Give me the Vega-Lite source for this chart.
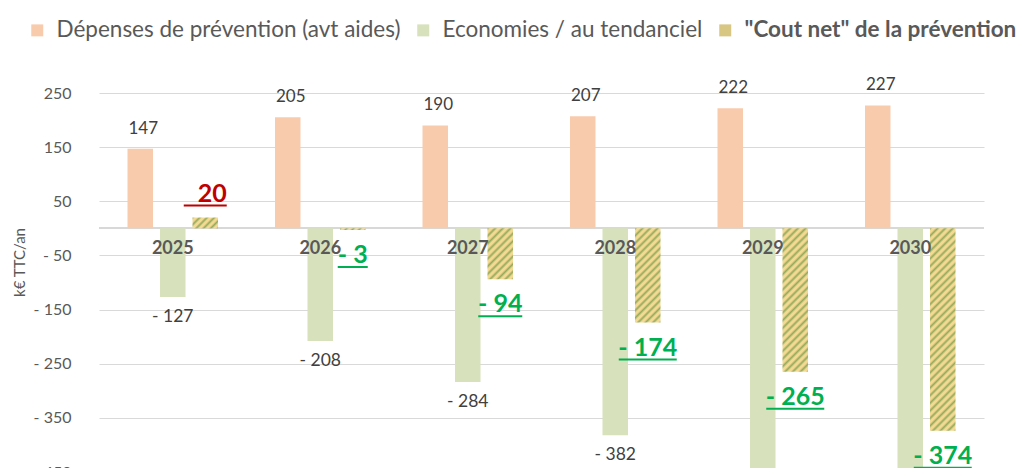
{
  "$schema": "https://vega.github.io/schema/vega-lite/v6.json",
  "width": 885,
  "height": 379,
  "autosize": {"type": "none"},
  "padding": {"left": 99, "top": 93, "right": 33, "bottom": 0},
  "background": "white",
  "config": {"font": "Lato", "view": {"stroke": null}},
  "data": {"values": [
    {"year": "2025", "series": "Dépenses de prévention (avt aides)", "value": 147},
    {"year": "2025", "series": "Economies / au tendanciel", "value": -127},
    {"year": "2025", "series": "\"Cout net\" de la prévention", "value": 20},
    {"year": "2026", "series": "Dépenses de prévention (avt aides)", "value": 205},
    {"year": "2026", "series": "Economies / au tendanciel", "value": -208},
    {"year": "2026", "series": "\"Cout net\" de la prévention", "value": -3},
    {"year": "2027", "series": "Dépenses de prévention (avt aides)", "value": 190},
    {"year": "2027", "series": "Economies / au tendanciel", "value": -284},
    {"year": "2027", "series": "\"Cout net\" de la prévention", "value": -94},
    {"year": "2028", "series": "Dépenses de prévention (avt aides)", "value": 207},
    {"year": "2028", "series": "Economies / au tendanciel", "value": -382},
    {"year": "2028", "series": "\"Cout net\" de la prévention", "value": -174},
    {"year": "2029", "series": "Dépenses de prévention (avt aides)", "value": 222},
    {"year": "2029", "series": "Economies / au tendanciel", "value": -487},
    {"year": "2029", "series": "\"Cout net\" de la prévention", "value": -265},
    {"year": "2030", "series": "Dépenses de prévention (avt aides)", "value": 227},
    {"year": "2030", "series": "Economies / au tendanciel", "value": -601},
    {"year": "2030", "series": "\"Cout net\" de la prévention", "value": -374}
  ]},
  "transform": [
    {"calculate": "datum.value < 0 ? '- ' + abs(datum.value) : '\u00a0' + datum.value", "as": "lab"}
  ],
  "encoding": {
    "x": {"field": "year", "type": "ordinal", "axis": null, "scale": {"paddingInner": 0.3864, "paddingOuter": 0.1932}},
    "y": {"field": "value", "type": "quantitative", "title": "k€ TTC/an",
      "scale": {"domain": [-450, 250], "nice": false, "zero": false},
      "axis": {"values": [250, 150, 50, -50, -150, -250, -350, -450], "grid": true, "gridColor": "#D9D9D9", "gridWidth": 1,
        "domain": false, "ticks": false, "labelPadding": 28, "labelFontSize": 16, "labelColor": "#595959",
        "labelExpr": "datum.value < 0 ? '- ' + abs(datum.value) : datum.value",
        "titleFontSize": 15, "titleFontWeight": "normal", "titleColor": "#595959", "titleX": -80, "titleY": 169, "titleBaseline": "middle"}}
  },
  "layer": [
    {
      "mark": {"type": "rule", "color": "#D9D9D9", "strokeWidth": 1},
      "encoding": {"y": {"datum": 0}, "x": {"value": 0}, "x2": {"value": 885}}
    },
    {
      "transform": [{"filter": "datum.series !== '\"Cout net\" de la prévention'"}],
      "mark": {"type": "bar", "clip": true},
      "encoding": {
        "xOffset": {"field": "series", "type": "nominal", "scale": {"domain": ["Dépenses de prévention (avt aides)", "Economies / au tendanciel", "\"Cout net\" de la prévention"], "paddingInner": 0.215, "paddingOuter": 0}},
        "color": {"field": "series", "type": "nominal",
          "scale": {"domain": ["Dépenses de prévention (avt aides)", "Economies / au tendanciel", "\"Cout net\" de la prévention"], "range": ["#F8CBAD", "#D7E2BC", "#D8C783"]},
          "legend": {"orient": "none", "legendX": -73, "legendY": -74, "direction": "horizontal", "title": null,
            "symbolType": "square", "symbolSize": 144, "symbolStrokeWidth": 0, "labelFontSize": 22.5, "labelColor": "#595959",
            "labelLimit": 0, "columnPadding": 11, "labelOffset": 8, "padding": 0, "offset": 0,
            "encode": {
              "labels": {"update": {"fontWeight": [{"test": "indexof(datum.label, 'Cout') >= 0", "value": "bold"}, {"value": "normal"}]}},
              "symbols": {"update": {"fill": [
                {"test": "indexof(datum.label, 'Cout') >= 0", "value": {"gradient": "linear", "x1": 0, "y1": 0, "x2": 1, "y2": 1, "stops": [
                  {"offset": 0, "color": "#94AA5C"}, {"offset": 0.117, "color": "#F3D991"}, {"offset": 0.217, "color": "#F3D991"},
                  {"offset": 0.333, "color": "#94AA5C"}, {"offset": 0.45, "color": "#F3D991"}, {"offset": 0.55, "color": "#F3D991"},
                  {"offset": 0.667, "color": "#94AA5C"}, {"offset": 0.783, "color": "#F3D991"}, {"offset": 0.883, "color": "#F3D991"},
                  {"offset": 1, "color": "#94AA5C"}]}},
                {"test": "indexof(datum.label, 'Dép') >= 0", "value": "#F8CBAD"},
                {"value": "#D7E2BC"}], "stroke": {"value": null}}}
            }}
        }
      }
    },
    {
      "transform": [{"filter": "datum.series === '\"Cout net\" de la prévention'"}],
      "mark": {"type": "bar", "clip": true},
      "encoding": {
        "xOffset": {"field": "series", "type": "nominal"},
        "fill": {"condition": [
          {"test": "datum.year === '2025'", "value": {"gradient": "linear", "x1": 0, "y1": 0, "x2": 1.207, "y2": 0.5126, "stops": [
            {"offset": 0, "color": "#94AA5C"}, {"offset": 0.07, "color": "#F3D991"}, {"offset": 0.13, "color": "#F3D991"},
            {"offset": 0.2, "color": "#94AA5C"}, {"offset": 0.27, "color": "#F3D991"}, {"offset": 0.33, "color": "#F3D991"},
            {"offset": 0.4, "color": "#94AA5C"}, {"offset": 0.47, "color": "#F3D991"}, {"offset": 0.53, "color": "#F3D991"},
            {"offset": 0.6, "color": "#94AA5C"}, {"offset": 0.67, "color": "#F3D991"}, {"offset": 0.73, "color": "#F3D991"},
            {"offset": 0.8, "color": "#94AA5C"}, {"offset": 0.87, "color": "#F3D991"}, {"offset": 0.93, "color": "#F3D991"},
            {"offset": 1, "color": "#94AA5C"}]}},
          {"test": "datum.year === '2026'", "value": {"gradient": "linear", "x1": 0, "y1": 0, "x2": 1.059, "y2": 0.0673, "stops": [
            {"offset": 0, "color": "#94AA5C"}, {"offset": 0.0875, "color": "#F3D991"}, {"offset": 0.1625, "color": "#F3D991"},
            {"offset": 0.25, "color": "#94AA5C"}, {"offset": 0.3375, "color": "#F3D991"}, {"offset": 0.4125, "color": "#F3D991"},
            {"offset": 0.5, "color": "#94AA5C"}, {"offset": 0.5875, "color": "#F3D991"}, {"offset": 0.6625, "color": "#F3D991"},
            {"offset": 0.75, "color": "#94AA5C"}, {"offset": 0.8375, "color": "#F3D991"}, {"offset": 0.9125, "color": "#F3D991"},
            {"offset": 1, "color": "#94AA5C"}]}},
          {"test": "datum.year === '2027'", "value": {"gradient": "linear", "x1": 0, "y1": 0, "x2": 0.6012, "y2": 1.1998, "stops": [
            {"offset": 0, "color": "#94AA5C"}, {"offset": 0.035, "color": "#F3D991"}, {"offset": 0.065, "color": "#F3D991"},
            {"offset": 0.1, "color": "#94AA5C"}, {"offset": 0.135, "color": "#F3D991"}, {"offset": 0.165, "color": "#F3D991"},
            {"offset": 0.2, "color": "#94AA5C"}, {"offset": 0.235, "color": "#F3D991"}, {"offset": 0.265, "color": "#F3D991"},
            {"offset": 0.3, "color": "#94AA5C"}, {"offset": 0.335, "color": "#F3D991"}, {"offset": 0.365, "color": "#F3D991"},
            {"offset": 0.4, "color": "#94AA5C"}, {"offset": 0.435, "color": "#F3D991"}, {"offset": 0.465, "color": "#F3D991"},
            {"offset": 0.5, "color": "#94AA5C"}, {"offset": 0.535, "color": "#F3D991"}, {"offset": 0.565, "color": "#F3D991"},
            {"offset": 0.6, "color": "#94AA5C"}, {"offset": 0.635, "color": "#F3D991"}, {"offset": 0.665, "color": "#F3D991"},
            {"offset": 0.7, "color": "#94AA5C"}, {"offset": 0.735, "color": "#F3D991"}, {"offset": 0.765, "color": "#F3D991"},
            {"offset": 0.8, "color": "#94AA5C"}, {"offset": 0.835, "color": "#F3D991"}, {"offset": 0.865, "color": "#F3D991"},
            {"offset": 0.9, "color": "#94AA5C"}, {"offset": 0.935, "color": "#F3D991"}, {"offset": 0.965, "color": "#F3D991"},
            {"offset": 1, "color": "#94AA5C"}]}},
          {"test": "datum.year === '2028'", "value": {"gradient": "linear", "x1": 0, "y1": 0, "x2": 0.3205, "y2": 1.1839, "stops": [
            {"offset": 0, "color": "#94AA5C"}, {"offset": 0.021875, "color": "#F3D991"}, {"offset": 0.040625, "color": "#F3D991"},
            {"offset": 0.0625, "color": "#94AA5C"}, {"offset": 0.084375, "color": "#F3D991"}, {"offset": 0.103125, "color": "#F3D991"},
            {"offset": 0.125, "color": "#94AA5C"}, {"offset": 0.146875, "color": "#F3D991"}, {"offset": 0.165625, "color": "#F3D991"},
            {"offset": 0.1875, "color": "#94AA5C"}, {"offset": 0.209375, "color": "#F3D991"}, {"offset": 0.228125, "color": "#F3D991"},
            {"offset": 0.25, "color": "#94AA5C"}, {"offset": 0.271875, "color": "#F3D991"}, {"offset": 0.290625, "color": "#F3D991"},
            {"offset": 0.3125, "color": "#94AA5C"}, {"offset": 0.334375, "color": "#F3D991"}, {"offset": 0.353125, "color": "#F3D991"},
            {"offset": 0.375, "color": "#94AA5C"}, {"offset": 0.396875, "color": "#F3D991"}, {"offset": 0.415625, "color": "#F3D991"},
            {"offset": 0.4375, "color": "#94AA5C"}, {"offset": 0.459375, "color": "#F3D991"}, {"offset": 0.478125, "color": "#F3D991"},
            {"offset": 0.5, "color": "#94AA5C"}, {"offset": 0.521875, "color": "#F3D991"}, {"offset": 0.540625, "color": "#F3D991"},
            {"offset": 0.5625, "color": "#94AA5C"}, {"offset": 0.584375, "color": "#F3D991"}, {"offset": 0.603125, "color": "#F3D991"},
            {"offset": 0.625, "color": "#94AA5C"}, {"offset": 0.646875, "color": "#F3D991"}, {"offset": 0.665625, "color": "#F3D991"},
            {"offset": 0.6875, "color": "#94AA5C"}, {"offset": 0.709375, "color": "#F3D991"}, {"offset": 0.728125, "color": "#F3D991"},
            {"offset": 0.75, "color": "#94AA5C"}, {"offset": 0.771875, "color": "#F3D991"}, {"offset": 0.790625, "color": "#F3D991"},
            {"offset": 0.8125, "color": "#94AA5C"}, {"offset": 0.834375, "color": "#F3D991"}, {"offset": 0.853125, "color": "#F3D991"},
            {"offset": 0.875, "color": "#94AA5C"}, {"offset": 0.896875, "color": "#F3D991"}, {"offset": 0.915625, "color": "#F3D991"},
            {"offset": 0.9375, "color": "#94AA5C"}, {"offset": 0.959375, "color": "#F3D991"}, {"offset": 0.978125, "color": "#F3D991"},
            {"offset": 1, "color": "#94AA5C"}]}},
          {"test": "datum.year === '2029'", "value": {"gradient": "linear", "x1": 0, "y1": 0, "x2": 0.2029, "y2": 1.1417, "stops": [
            {"offset": 0, "color": "#94AA5C"}, {"offset": 0.01591, "color": "#F3D991"}, {"offset": 0.02955, "color": "#F3D991"},
            {"offset": 0.04545, "color": "#94AA5C"}, {"offset": 0.06136, "color": "#F3D991"}, {"offset": 0.075, "color": "#F3D991"},
            {"offset": 0.09091, "color": "#94AA5C"}, {"offset": 0.10682, "color": "#F3D991"}, {"offset": 0.12045, "color": "#F3D991"},
            {"offset": 0.13636, "color": "#94AA5C"}, {"offset": 0.15227, "color": "#F3D991"}, {"offset": 0.16591, "color": "#F3D991"},
            {"offset": 0.18182, "color": "#94AA5C"}, {"offset": 0.19773, "color": "#F3D991"}, {"offset": 0.21136, "color": "#F3D991"},
            {"offset": 0.22727, "color": "#94AA5C"}, {"offset": 0.24318, "color": "#F3D991"}, {"offset": 0.25682, "color": "#F3D991"},
            {"offset": 0.27273, "color": "#94AA5C"}, {"offset": 0.28864, "color": "#F3D991"}, {"offset": 0.30227, "color": "#F3D991"},
            {"offset": 0.31818, "color": "#94AA5C"}, {"offset": 0.33409, "color": "#F3D991"}, {"offset": 0.34773, "color": "#F3D991"},
            {"offset": 0.36364, "color": "#94AA5C"}, {"offset": 0.37955, "color": "#F3D991"}, {"offset": 0.39318, "color": "#F3D991"},
            {"offset": 0.40909, "color": "#94AA5C"}, {"offset": 0.425, "color": "#F3D991"}, {"offset": 0.43864, "color": "#F3D991"},
            {"offset": 0.45455, "color": "#94AA5C"}, {"offset": 0.47045, "color": "#F3D991"}, {"offset": 0.48409, "color": "#F3D991"},
            {"offset": 0.5, "color": "#94AA5C"}, {"offset": 0.51591, "color": "#F3D991"}, {"offset": 0.52955, "color": "#F3D991"},
            {"offset": 0.54545, "color": "#94AA5C"}, {"offset": 0.56136, "color": "#F3D991"}, {"offset": 0.575, "color": "#F3D991"},
            {"offset": 0.59091, "color": "#94AA5C"}, {"offset": 0.60682, "color": "#F3D991"}, {"offset": 0.62045, "color": "#F3D991"},
            {"offset": 0.63636, "color": "#94AA5C"}, {"offset": 0.65227, "color": "#F3D991"}, {"offset": 0.66591, "color": "#F3D991"},
            {"offset": 0.68182, "color": "#94AA5C"}, {"offset": 0.69773, "color": "#F3D991"}, {"offset": 0.71136, "color": "#F3D991"},
            {"offset": 0.72727, "color": "#94AA5C"}, {"offset": 0.74318, "color": "#F3D991"}, {"offset": 0.75682, "color": "#F3D991"},
            {"offset": 0.77273, "color": "#94AA5C"}, {"offset": 0.78864, "color": "#F3D991"}, {"offset": 0.80227, "color": "#F3D991"},
            {"offset": 0.81818, "color": "#94AA5C"}, {"offset": 0.83409, "color": "#F3D991"}, {"offset": 0.84773, "color": "#F3D991"},
            {"offset": 0.86364, "color": "#94AA5C"}, {"offset": 0.87955, "color": "#F3D991"}, {"offset": 0.89318, "color": "#F3D991"},
            {"offset": 0.90909, "color": "#94AA5C"}, {"offset": 0.925, "color": "#F3D991"}, {"offset": 0.93864, "color": "#F3D991"},
            {"offset": 0.95455, "color": "#94AA5C"}, {"offset": 0.97045, "color": "#F3D991"}, {"offset": 0.98409, "color": "#F3D991"},
            {"offset": 1, "color": "#94AA5C"}]}}
        ],
        "value": {"gradient": "linear", "x1": 0, "y1": 0, "x2": 0.1396, "y2": 1.1084, "stops": [
            {"offset": 0, "color": "#94AA5C"}, {"offset": 0.01167, "color": "#F3D991"}, {"offset": 0.02167, "color": "#F3D991"},
            {"offset": 0.03333, "color": "#94AA5C"}, {"offset": 0.045, "color": "#F3D991"}, {"offset": 0.055, "color": "#F3D991"},
            {"offset": 0.06667, "color": "#94AA5C"}, {"offset": 0.07833, "color": "#F3D991"}, {"offset": 0.08833, "color": "#F3D991"},
            {"offset": 0.1, "color": "#94AA5C"}, {"offset": 0.11167, "color": "#F3D991"}, {"offset": 0.12167, "color": "#F3D991"},
            {"offset": 0.13333, "color": "#94AA5C"}, {"offset": 0.145, "color": "#F3D991"}, {"offset": 0.155, "color": "#F3D991"},
            {"offset": 0.16667, "color": "#94AA5C"}, {"offset": 0.17833, "color": "#F3D991"}, {"offset": 0.18833, "color": "#F3D991"},
            {"offset": 0.2, "color": "#94AA5C"}, {"offset": 0.21167, "color": "#F3D991"}, {"offset": 0.22167, "color": "#F3D991"},
            {"offset": 0.23333, "color": "#94AA5C"}, {"offset": 0.245, "color": "#F3D991"}, {"offset": 0.255, "color": "#F3D991"},
            {"offset": 0.26667, "color": "#94AA5C"}, {"offset": 0.27833, "color": "#F3D991"}, {"offset": 0.28833, "color": "#F3D991"},
            {"offset": 0.3, "color": "#94AA5C"}, {"offset": 0.31167, "color": "#F3D991"}, {"offset": 0.32167, "color": "#F3D991"},
            {"offset": 0.33333, "color": "#94AA5C"}, {"offset": 0.345, "color": "#F3D991"}, {"offset": 0.355, "color": "#F3D991"},
            {"offset": 0.36667, "color": "#94AA5C"}, {"offset": 0.37833, "color": "#F3D991"}, {"offset": 0.38833, "color": "#F3D991"},
            {"offset": 0.4, "color": "#94AA5C"}, {"offset": 0.41167, "color": "#F3D991"}, {"offset": 0.42167, "color": "#F3D991"},
            {"offset": 0.43333, "color": "#94AA5C"}, {"offset": 0.445, "color": "#F3D991"}, {"offset": 0.455, "color": "#F3D991"},
            {"offset": 0.46667, "color": "#94AA5C"}, {"offset": 0.47833, "color": "#F3D991"}, {"offset": 0.48833, "color": "#F3D991"},
            {"offset": 0.5, "color": "#94AA5C"}, {"offset": 0.51167, "color": "#F3D991"}, {"offset": 0.52167, "color": "#F3D991"},
            {"offset": 0.53333, "color": "#94AA5C"}, {"offset": 0.545, "color": "#F3D991"}, {"offset": 0.555, "color": "#F3D991"},
            {"offset": 0.56667, "color": "#94AA5C"}, {"offset": 0.57833, "color": "#F3D991"}, {"offset": 0.58833, "color": "#F3D991"},
            {"offset": 0.6, "color": "#94AA5C"}, {"offset": 0.61167, "color": "#F3D991"}, {"offset": 0.62167, "color": "#F3D991"},
            {"offset": 0.63333, "color": "#94AA5C"}, {"offset": 0.645, "color": "#F3D991"}, {"offset": 0.655, "color": "#F3D991"},
            {"offset": 0.66667, "color": "#94AA5C"}, {"offset": 0.67833, "color": "#F3D991"}, {"offset": 0.68833, "color": "#F3D991"},
            {"offset": 0.7, "color": "#94AA5C"}, {"offset": 0.71167, "color": "#F3D991"}, {"offset": 0.72167, "color": "#F3D991"},
            {"offset": 0.73333, "color": "#94AA5C"}, {"offset": 0.745, "color": "#F3D991"}, {"offset": 0.755, "color": "#F3D991"},
            {"offset": 0.76667, "color": "#94AA5C"}, {"offset": 0.77833, "color": "#F3D991"}, {"offset": 0.78833, "color": "#F3D991"},
            {"offset": 0.8, "color": "#94AA5C"}, {"offset": 0.81167, "color": "#F3D991"}, {"offset": 0.82167, "color": "#F3D991"},
            {"offset": 0.83333, "color": "#94AA5C"}, {"offset": 0.845, "color": "#F3D991"}, {"offset": 0.855, "color": "#F3D991"},
            {"offset": 0.86667, "color": "#94AA5C"}, {"offset": 0.87833, "color": "#F3D991"}, {"offset": 0.88833, "color": "#F3D991"},
            {"offset": 0.9, "color": "#94AA5C"}, {"offset": 0.91167, "color": "#F3D991"}, {"offset": 0.92167, "color": "#F3D991"},
            {"offset": 0.93333, "color": "#94AA5C"}, {"offset": 0.945, "color": "#F3D991"}, {"offset": 0.955, "color": "#F3D991"},
            {"offset": 0.96667, "color": "#94AA5C"}, {"offset": 0.97833, "color": "#F3D991"}, {"offset": 0.98833, "color": "#F3D991"},
            {"offset": 1, "color": "#94AA5C"}]}}
      }
    },
    {
      "transform": [{"filter": "datum.series === 'Dépenses de prévention (avt aides)'"}],
      "mark": {"type": "text", "dy": -20, "dx": 3, "fontSize": 17, "color": "#404040", "baseline": "middle"},
      "encoding": {"xOffset": {"field": "series", "type": "nominal"}, "text": {"field": "lab"}}
    },
    {
      "transform": [{"filter": "datum.series === 'Economies / au tendanciel'"}],
      "mark": {"type": "text", "dy": 20, "fontSize": 17.5, "color": "#404040", "baseline": "middle"},
      "encoding": {"xOffset": {"field": "series", "type": "nominal"}, "text": {"field": "lab"}}
    },
    {
      "transform": [{"filter": "datum.series === '\"Cout net\" de la prévention' && datum.value < 0"}],
      "mark": {"type": "text", "dy": 25, "fontSize": 25, "fontWeight": "bold", "color": "#00B050", "baseline": "middle"},
      "encoding": {"xOffset": {"field": "series", "type": "nominal"}, "text": {"field": "lab"}}
    },
    {
      "transform": [{"filter": "datum.series === '\"Cout net\" de la prévention' && datum.value >= 0"}],
      "mark": {"type": "text", "dy": -24, "dx": 7, "fontSize": 25, "fontWeight": "bold", "color": "#C00000", "baseline": "middle"},
      "encoding": {"xOffset": {"field": "series", "type": "nominal"}, "text": {"field": "lab"}}
    },
    {
      "transform": [{"filter": "datum.series === '\"Cout net\" de la prévention' && datum.value < 0"}],
      "mark": {"type": "tick", "yOffset": 37, "thickness": 2, "color": "#00B050", "opacity": 1},
      "encoding": {"xOffset": {"field": "series", "type": "nominal"},
        "size": {"condition": [{"test": "abs(datum.value) >= 100", "value": 58}, {"test": "abs(datum.value) >= 10", "value": 44}], "value": 30}}
    },
    {
      "transform": [{"filter": "datum.series === '\"Cout net\" de la prévention' && datum.value >= 0"}],
      "mark": {"type": "tick", "yOffset": -12, "thickness": 2, "color": "#C00000", "opacity": 1},
      "encoding": {"xOffset": {"field": "series", "type": "nominal"}, "size": {"value": 43}}
    },
    {
      "transform": [{"filter": "datum.series === 'Dépenses de prévention (avt aides)'"}],
      "mark": {"type": "text", "dy": 21, "fontSize": 18, "fontWeight": "bold", "color": "#595959", "baseline": "middle"},
      "encoding": {"y": {"datum": 0}, "text": {"field": "year"}}
    }
  ]
}
